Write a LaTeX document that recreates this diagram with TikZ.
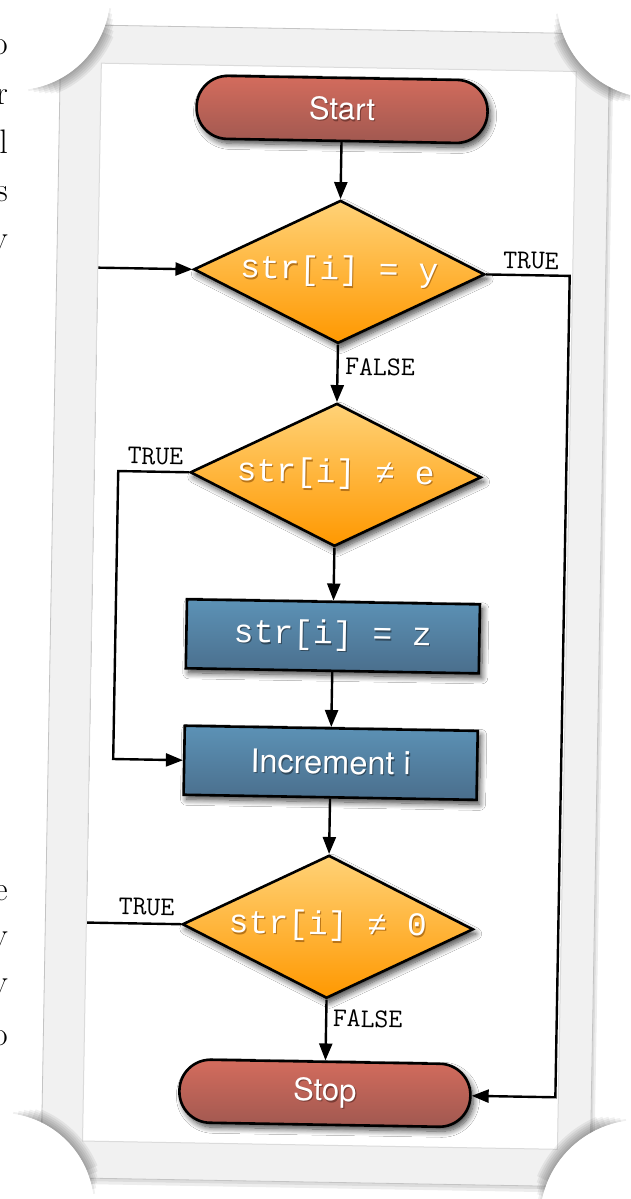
\documentclass[tikz,border=0pt]{standalone}
\usepackage{fontspec}
\newfontfamily\helv{TeX Gyre Heros}
\newfontfamily\cour{Liberation Mono}
\usetikzlibrary{shapes.geometric,arrows.meta,shadows.blur,calc}

\definecolor{pilltop}{HTML}{D46C5D}
\definecolor{pillbot}{HTML}{A05850}
\definecolor{pillglow}{HTML}{7A3C35}
\definecolor{dectop}{HTML}{FFD277}
\definecolor{decbot}{HTML}{FF9800}
\definecolor{decglow}{HTML}{B87418}
\definecolor{proctop}{HTML}{5C92B6}
\definecolor{procbot}{HTML}{4A6E8C}
\definecolor{procglow}{HTML}{30495C}
\definecolor{stripfill}{HTML}{F1F1F1}
\definecolor{stripedge}{HTML}{C4C4C4}

% white text with a soft dark offset copy behind it
\newcommand\glowtxt[2]{\leavevmode\rlap{\kern1.1pt\raisebox{-1.4pt}{\textcolor{#1}{#2}}}#2}

\tikzset{
  shapeshadow/.style={blur shadow={shadow xshift=3pt, shadow yshift=-4.5pt,
      shadow blur steps=10, shadow blur radius=6pt, shadow opacity=75}},
  pill/.style={rectangle, rounded corners=31pt, minimum width=291pt, minimum height=63pt,
      draw=black, line width=2.6pt, top color=pilltop, bottom color=pillbot,
      text=white, font=\helv\fontsize{31}{36}\selectfont, shapeshadow},
  decision/.style={diamond, aspect=2, inner sep=0pt, minimum width=291pt, minimum height=143pt,
      draw=black, line width=2.6pt, top color=dectop, bottom color=decbot,
      text=white, font=\cour\fontsize{33}{38}\selectfont, shapeshadow},
  process/.style={rectangle, minimum width=293pt, minimum height=69pt,
      draw=black, line width=2.6pt, top color=proctop, bottom color=procbot,
      text=white, font=\helv\fontsize{32.5}{38}\selectfont, shapeshadow},
  process mono/.style={process, font=\cour\fontsize{33}{38}\selectfont},
  flowlabel/.style={inner sep=0pt, text=black, font=\ttfamily\fontsize{27}{31}\selectfont},
  flowarrow/.style={line width=2.4pt, draw=black, -{Triangle[length=17pt,width=13pt]}},
  fragment/.style={inner sep=0pt, anchor=base east, font=\fontsize{34}{40}\selectfont}
}

\begin{document}
\begin{tikzpicture}[x=1pt,y=-1pt]
\useasboundingbox (0,0) rectangle (630,1199);
\clip (0,0) rectangle (630,1199);
\fill[white] (0,0) rectangle (630,1199);

\begin{scope}[rotate around={-1:(315,600)}, transform shape]
  % soft shadow of the frame
  \fill[black, opacity=0.07, even odd rule] (52,31) rectangle (604,1188) (92,67) rectangle (567,1145);
  \fill[black, opacity=0.07, even odd rule] (51,30) rectangle (602,1185) (92,67) rectangle (567,1145);

  % flowchart
  \node[pill]     (start) at (333.5,109)   {\glowtxt{pillglow}{Start}};
  \node[decision] (d1)    at (333.5,271.5) {\glowtxt{decglow}{str[i] = y}};
  \node[decision] (d2)    at (333.5,474.5) {\glowtxt{decglow}{str[i] ≠ e}};
  \node[process mono] (set) at (333.5,636) {\glowtxt{procglow}{str[i] = z}};
  \node[process]  (inc)   at (333.5,762.5) {\glowtxt{procglow}{Increment i}};
  \node[decision] (d3)    at (333.5,926.5) {\glowtxt{decglow}{str[i] ≠ 0}};
  \node[pill]     (stop)  at (333.5,1093)  {\glowtxt{pillglow}{Stop}};

  \coordinate (rightrail) at (564,0);
  \coordinate (innerrail) at (116,0);
  \coordinate (outerrail) at (91,0);

  \draw[flowarrow] (start.south) -- (d1.north);
  \draw[flowarrow] (d1.south) -- (d2.north);
  \draw[flowarrow] (d2.south) -- (set.north);
  \draw[flowarrow] (set.south) -- (inc.north);
  \draw[flowarrow] (inc.south) -- (d3.north);
  \draw[flowarrow] (d3.south) -- (stop.north);
  \draw[flowarrow] (d1.east) -- (d1.east -| rightrail) |- (stop.east);
  \draw[flowarrow] (d2.west) -- (d2.west -| innerrail) |- (inc.west);
  \draw[flowarrow] (d3.west) -- (d3.west -| outerrail) |- (d1.west);

  \node[flowlabel] (t1) at (525,257) {TRUE};
  \node[flowlabel, anchor=west] (f1) at (341,366) {FALSE};
  \node[flowlabel] (t2) at (153,459) {TRUE};
  \node[flowlabel] (t3) at (152,910) {TRUE};
  \node[flowlabel, anchor=west] (f3) at (340,1018) {FALSE};

  % photo frame border
  \fill[stripfill, even odd rule] (51,29) rectangle (600,1182) (92,67) rectangle (567,1145);
  \draw[stripedge, line width=0.8pt] (51,29) rectangle (600,1182);
  \draw[black!14, line width=1pt] (92,67) rectangle (567,1145);
\end{scope}

% curled photo corners: a white flap with a shadow that fades towards its ends
\foreach \cx/\cy/\r/\a/\b in {15/-5/95/0/90, 655/0/98/90/180, 0/1207/94/-90/0, 640/1220/100/-180/-90}{
  \foreach \w in {2,4,...,12}{
    \pgfmathsetmacro\inset{5+1.5*\w}
    \draw[black, opacity=0.06, line width=\w pt]
      (\cx,\cy) ++(\a+\inset:\r+\w/2) arc[start angle=\a+\inset, end angle=\b-\inset, radius=\r+\w/2];
  }
  \fill[white] (\cx,\cy) -- ++(\a:\r) arc[start angle=\a, end angle=\b, radius=\r] -- cycle;
}

% edge of the neighbouring page text
\node[fragment] (g1) at (8,55)   {o};
\node[fragment] (g2) at (8,104)  {r};
\node[fragment] (g3) at (8,153)  {l};
\node[fragment] (g4) at (8,201)  {s};
\node[fragment] (g5) at (8,249)  {y};
\node[fragment] (g6) at (8,900)  {e};
\node[fragment] (g7) at (8,946)  {y};
\node[fragment] (g8) at (8,993)  {y};
\node[fragment] (g9) at (8,1045) {o};
\end{tikzpicture}
\end{document}
